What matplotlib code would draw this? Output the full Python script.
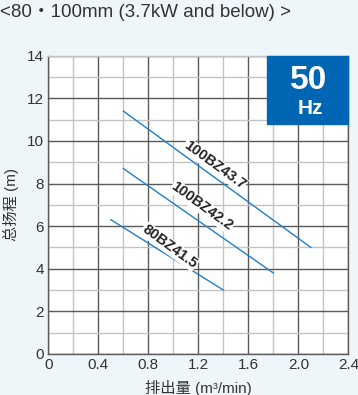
import matplotlib
matplotlib.use("Agg")
import matplotlib.pyplot as plt
import numpy as np

plt.rcParams['font.family'] = ['Liberation Sans', 'Noto Sans CJK SC', 'DejaVu Sans']

# pump curves
names = ["100BZ43.7", "100BZ42.2", "80BZ41.5"]
flow = [[0.6, 2.1], [0.6, 1.8], [0.5, 1.4]]
head = [[11.4, 5.0], [8.7, 3.8], [6.3, 3.0]]
label_pos = [(1.33, 8.87), (1.23, 6.92), (0.97, 5.04)]

xticks = [0, 0.4, 0.8, 1.2, 1.6, 2.0, 2.4]
xticklabels = ["0", "0.4", "0.8", "1.2", "1.6", "2.0", "2.4"]
yticks = [0, 2, 4, 6, 8, 10, 12, 14]

bg = "#eef6fa"
blue = "#0066b3"
line_c = "#1f7fcb"
txt = "#333333"

fig = plt.figure(figsize=(3.58, 3.95), dpi=100, facecolor=bg)
ax = fig.add_axes([0.135, 0.104, 0.838, 0.755])
ax.set_facecolor("white")

ax.set_xlim(0, 2.4)
ax.set_ylim(0, 14)
ax.set_xticks(xticks)
ax.set_xticklabels(xticklabels)
ax.set_yticks(yticks)
ax.set_xticks(np.arange(0.2, 2.4, 0.4), minor=True)
ax.set_yticks(np.arange(1, 14, 2), minor=True)
ax.grid(which="major", color="#5a5a5a", lw=1.0)
ax.grid(which="minor", color="#c4c4c4", lw=1.0)
ax.set_axisbelow(True)
ax.tick_params(which="both", length=0, labelsize=11, colors=txt, pad=3)
for s in ax.spines.values():
    s.set_color("#5a5a5a")
    s.set_linewidth(1.0)
ax.spines["top"].set_color("#c4c4c4")

for n, xs, ys, (lx, ly) in zip(names, flow, head, label_pos):
    ax.plot(xs, ys, color=line_c, lw=1.0)
    ax.text(lx, ly, n, rotation=-36, rotation_mode="anchor", ha="center", va="center",
            fontsize=10.5, fontweight="bold", color="#222222",
            bbox=dict(boxstyle="square,pad=0.05", fc="white", ec="none"))

# 50 Hz badge
ax.add_patch(plt.Rectangle((1.75, 10.8), 0.65, 3.2, color=blue, zorder=5, clip_on=False))
ax.text(2.08, 12.85, "50", color="white", fontsize=24, fontweight="bold",
        ha="center", va="center", zorder=6)
ax.text(2.1, 11.5, "Hz", color="white", fontsize=15, fontweight="bold",
        ha="center", va="center", zorder=6)

ax.set_xlabel("排出量 (m³/min)", fontsize=11, color=txt, labelpad=6)
ax.set_ylabel("总扬程 (m)", fontsize=11, color=txt, labelpad=6)

fig.text(0.0, 0.968, "<80・100mm (3.7kW and below) >", fontsize=13.5, color=txt,
         ha="left", va="center")

fig.savefig("out.png", dpi=100, facecolor=bg)
